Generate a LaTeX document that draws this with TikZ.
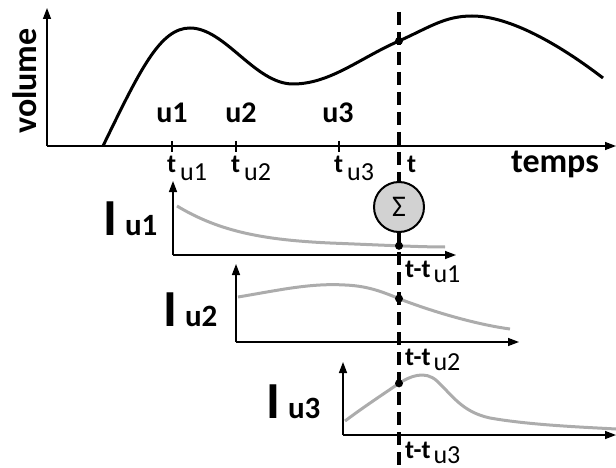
\documentclass[tikz,border=0pt]{standalone}
\usepackage{fontspec}
\setmainfont{Carlito}
\usetikzlibrary{arrows.meta,intersections}
\tikzset{
  axis/.style={line width=1.4pt,-{Triangle[length=11pt,width=8pt]}},
  vol/.style={line width=3pt,black},
  resp/.style={line width=3pt,color=gray!65},
  tickmark/.style={line width=1.2pt},
  ulab/.style={font=\fontsize{30}{30}\selectfont\bfseries,anchor=base},
  tlab/.style={font=\fontsize{26}{26}\selectfont,anchor=base west,inner sep=0pt},
  ilab/.style={anchor=base west,inner sep=0pt},
  dashline/.style={line width=3.5pt,dash pattern=on 13pt off 7pt},
  dotmark/.style={circle,fill=black,inner sep=0pt,minimum size=8pt},
}
\newcommand{\Ilab}[1]{{\fontsize{52}{52}\selectfont\bfseries I}\hspace{8pt}{\fontsize{31}{31}\selectfont\bfseries u#1}}
\newcommand{\Tlab}[1]{{\bfseries t}\hspace{4pt}\raisebox{-7pt}{u#1}}
\newcommand{\TTlab}[1]{{\bfseries t-t}\hspace{3pt}\raisebox{-5pt}{u#1}}
\begin{document}
\begin{tikzpicture}[x=1pt,y=-1pt]
\useasboundingbox (0,0) rectangle (616,468);
% main axes
\coordinate (O) at (47,146);
\coordinate (Ytop) at (47,8);
\coordinate (Xend) at (616,146);
\draw[axis] (O) -- (Ytop);
\draw[axis] (O) -- (Xend);
\node[rotate=90,font=\fontsize{34}{34}\selectfont\bfseries] (vol) at (25,81) {volume};
\node[font=\fontsize{34}{34}\selectfont\bfseries,anchor=base] (temps) at (555,172) {temps};
% volume curve
\draw[vol,name path=volc] (103,146) .. controls (140,70) and (160,28) .. (190,28)
  .. controls (225,28) and (255,84) .. (293,84)
  .. controls (330,84) and (360,58) .. (399,41)
  .. controls (430,27) and (445,16) .. (472,16)
  .. controls (510,16) and (560,45) .. (603,78);
% ticks
\foreach \x in {172,236,339}{
  \draw[tickmark] (\x,141) -- (\x,152);
}
\node[ulab] (u1) at (172,123) {u1};
\node[ulab] (u2) at (241,123) {u2};
\node[ulab] (u3) at (338,123) {u3};
\node[tlab] (tu1) at (167,173) {\Tlab{1}};
\node[tlab] (tu2) at (231,173) {\Tlab{2}};
\node[tlab] (tu3) at (334,173) {\Tlab{3}};
\node[tlab,font=\fontsize{26}{26}\selectfont\bfseries] (tt) at (407,172) {t};
% dashed vertical line
\coordinate (Dtop) at (399,12);
\coordinate (Dbot) at (399,468);
\path[name path=dline] (Dtop) -- (Dbot);
\draw[dashline] (Dtop) -- (Dbot);
% sub plot 1
\coordinate (O1) at (173,255);
\draw[axis] (O1) -- (173,181);
\draw[axis] (O1) -- (456,255);
\draw[resp,name path=r1] (177,206) .. controls (220,232) and (265,240) .. (330,243)
  .. controls (380,245) and (420,247) .. (445,247);
\node[ilab] (I1) at (103,235) {\Ilab{1}};
\node[tlab] (tt1) at (405,277) {\TTlab{1}};
% sub plot 2
\coordinate (O2) at (236,342);
\draw[axis] (O2) -- (236,264);
\draw[axis] (O2) -- (519,342);
\draw[resp,name path=r2] (238,297) .. controls (280,290) and (310,283) .. (345,285)
  .. controls (370,286) and (385,293) .. (405,301)
  .. controls (440,314) and (480,325) .. (510,329);
\node[ilab] (I2) at (163,326) {\Ilab{2}};
\node[tlab] (tt2) at (405,365) {\TTlab{2}};
% sub plot 3
\coordinate (O3) at (343,435);
\draw[axis] (O3) -- (343,362);
\draw[axis] (O3) -- (616,435);
\draw[resp,name path=r3] (345,421) .. controls (365,406) and (385,393) .. (398,384)
  .. controls (410,376) and (425,370) .. (437,381)
  .. controls (452,395) and (462,412) .. (490,418)
  .. controls (530,425) and (580,427) .. (616,429);
\node[ilab] (I3) at (266,418) {\Ilab{3}};
\node[tlab] (tt3) at (405,458) {\TTlab{3}};
% intersection dots
\path[name intersections={of=dline and volc,by=P0}];
\path[name intersections={of=dline and r1,by=P1}];
\path[name intersections={of=dline and r2,by=P2}];
\path[name intersections={of=dline and r3,by=P3}];
\node[dotmark] (d0) at (P0) {};
\node[dotmark] (d1) at (P1) {};
\node[dotmark] (d2) at (P2) {};
\node[dotmark] (d3) at (P3) {};
% sum circle
\node[circle,draw=black,line width=2pt,fill=gray!35,minimum size=50pt,inner sep=0pt,
  font=\fontsize{30}{30}\selectfont] (sum) at (399,207) {Σ};
\draw[line width=3.5pt] (sum.south) -- (d1.center);
\end{tikzpicture}
\end{document}
